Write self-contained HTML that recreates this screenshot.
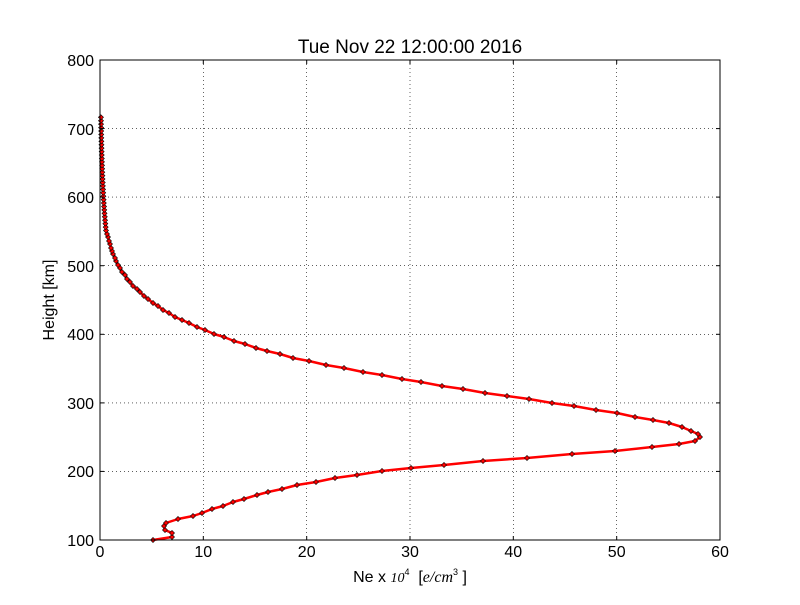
<!DOCTYPE html>
<html><head><meta charset="utf-8"><style>
body{margin:0;background:#fff;}
svg text{font-family:"Liberation Sans","DejaVu Sans",sans-serif;}
</style></head><body>
<svg id="s" width="800" height="600" viewBox="0 0 800 600" xmlns="http://www.w3.org/2000/svg">
<rect width="800" height="600" fill="#fff"/>
<g stroke="#000" stroke-width="0.6" stroke-dasharray="1,3">
<line x1="203.3" y1="60" x2="203.3" y2="540"/><line x1="306.7" y1="60" x2="306.7" y2="540"/>
<line x1="410" y1="60" x2="410" y2="540"/><line x1="513.3" y1="60" x2="513.3" y2="540"/>
<line x1="616.7" y1="60" x2="616.7" y2="540"/>
<line x1="100" y1="471.4" x2="720" y2="471.4"/><line x1="100" y1="402.9" x2="720" y2="402.9"/>
<line x1="100" y1="334.3" x2="720" y2="334.3"/><line x1="100" y1="265.7" x2="720" y2="265.7"/>
<line x1="100" y1="197.1" x2="720" y2="197.1"/><line x1="100" y1="128.6" x2="720" y2="128.6"/>
</g>
<g id="curve"></g>
<rect x="100" y="60" width="620" height="480" fill="none" stroke="#000" stroke-width="1"/>
<g stroke="#000" stroke-width="1">
<line x1="203.3" y1="540" x2="203.3" y2="536"/><line x1="306.7" y1="540" x2="306.7" y2="536"/><line x1="410" y1="540" x2="410" y2="536"/><line x1="513.3" y1="540" x2="513.3" y2="536"/><line x1="616.7" y1="540" x2="616.7" y2="536"/>
<line x1="203.3" y1="60" x2="203.3" y2="64"/><line x1="306.7" y1="60" x2="306.7" y2="64"/><line x1="410" y1="60" x2="410" y2="64"/><line x1="513.3" y1="60" x2="513.3" y2="64"/><line x1="616.7" y1="60" x2="616.7" y2="64"/>
<line x1="100" y1="471.4" x2="104" y2="471.4"/><line x1="100" y1="402.9" x2="104" y2="402.9"/><line x1="100" y1="334.3" x2="104" y2="334.3"/><line x1="100" y1="265.7" x2="104" y2="265.7"/><line x1="100" y1="197.1" x2="104" y2="197.1"/><line x1="100" y1="128.6" x2="104" y2="128.6"/>
<line x1="720" y1="471.4" x2="716" y2="471.4"/><line x1="720" y1="402.9" x2="716" y2="402.9"/><line x1="720" y1="334.3" x2="716" y2="334.3"/><line x1="720" y1="265.7" x2="716" y2="265.7"/><line x1="720" y1="197.1" x2="716" y2="197.1"/><line x1="720" y1="128.6" x2="716" y2="128.6"/>
</g>
<g font-size="16" text-anchor="middle">
<text x="100" y="557">0</text><text x="203.3" y="557">10</text><text x="306.7" y="557">20</text><text x="410" y="557">30</text><text x="513.3" y="557">40</text><text x="616.7" y="557">50</text><text x="720" y="557">60</text>
</g>
<g font-size="16" text-anchor="end">
<text x="94" y="546">100</text><text x="94" y="477">200</text><text x="94" y="409">300</text><text x="94" y="340">400</text><text x="94" y="272">500</text><text x="94" y="203">600</text><text x="94" y="135">700</text><text x="94" y="66">800</text>
</g>
<text x="410" y="53" font-size="19" text-anchor="middle">Tue Nov 22 12:00:00 2016</text>
<text x="410" y="582" font-size="16" text-anchor="middle">Ne x <tspan font-family="Liberation Serif" font-style="italic" font-size="14">10</tspan><tspan font-size="9" dy="-7">4</tspan><tspan dy="7" xml:space="preserve">  [</tspan><tspan font-family="Liberation Serif" font-style="italic">e/cm</tspan><tspan font-size="9" dy="-7">3</tspan><tspan dy="7" xml:space="preserve"> ]</tspan></text>
<text x="54" y="300" font-size="16" text-anchor="middle" transform="rotate(-90 54 300)">Height [km]</text>
</svg>
<script>
var p=[[153,540],[172,537],[172,533],[165,530],[164,526],[166,523],[178,519],[193,516],[202,513],[212,509],[223,506],[233,502],[244,499],[257,495],[268,492],[282,489],[297,485],[316,482],[335,478],[357,475],[382,471],[411,468],[444,465],[483,461],[527,458],[572,454],[615,451],[652,447],[679,444],[695,441],[700,437],[698,434],[691,431],[682,427],[669,423],[653,420],[635,417],[617,413],[596,410],[574,406],[552,403],[529,399],[507,396],[485,393],[463,389],[442,386],[421,382],[402,379],[382,375],[363,372],[344,368],[326,365],[309,361],[293,358],[280,354],[267,351],[256,348],[245,344],[234,341],[224,337],[214,334],[205,330],[197,327],[189,323],[182,320],[175,317],[169,313],[163,310],[158,306],[153,303],[148,299],[144,296],[140,292],[137,289],[133,286],[130,282],[127,279],[125,275],[122,272],[120,268],[118,265],[116,261],[115,258],[113,254],[112,251],[111,248],[110,244],[109,241],[108,237],[107,234]];
for(var y=230.5;y>=114;y-=3.43){p.push([100+6*Math.exp(-(230.5-y)/61),y]);}
var g=document.getElementById('curve'),ns='http://www.w3.org/2000/svg';
var pl=document.createElementNS(ns,'polyline');
pl.setAttribute('points',p.map(function(a){return a[0].toFixed(1)+','+a[1].toFixed(1)}).join(' '));
pl.setAttribute('fill','none');pl.setAttribute('stroke','#f00');pl.setAttribute('stroke-width','2.5');pl.setAttribute('stroke-linejoin','round');
g.appendChild(pl);
p.forEach(function(a){var c=document.createElementNS(ns,'rect');c.setAttribute('x',a[0]-1.8);c.setAttribute('y',a[1]-1.8);c.setAttribute('width',3.6);c.setAttribute('height',3.6);c.setAttribute('fill','#f00');c.setAttribute('stroke','#000');c.setAttribute('stroke-width','0.6');c.setAttribute('transform','rotate(45 '+a[0]+' '+a[1]+')');g.appendChild(c);});
</script>
</body></html>
